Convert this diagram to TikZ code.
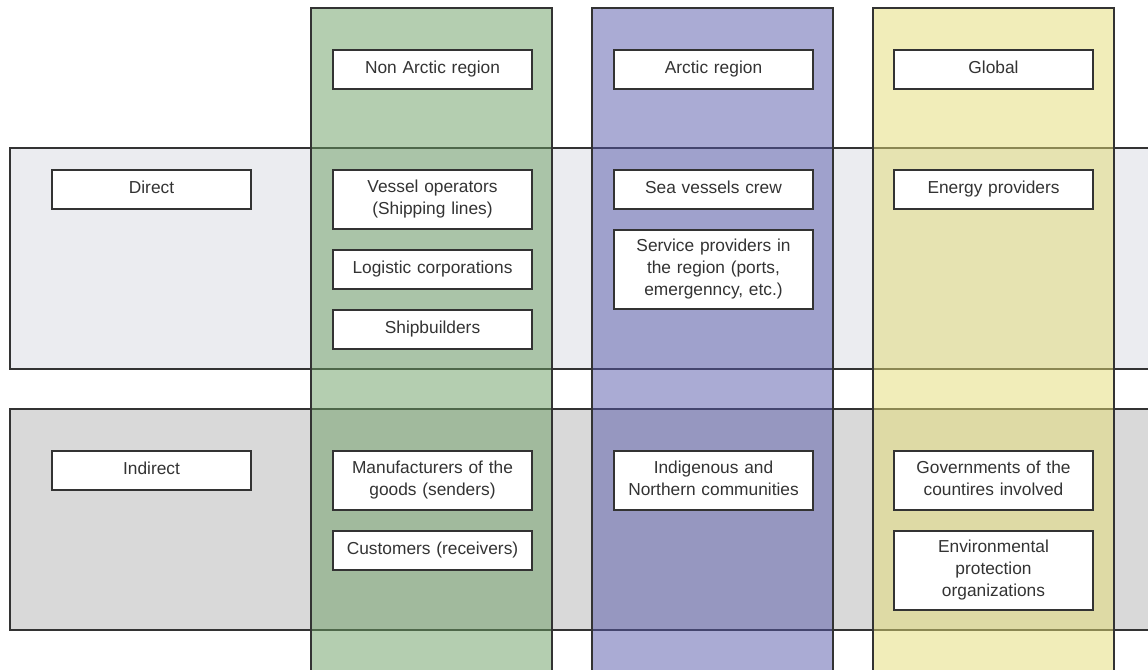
\documentclass[tikz,border=0pt]{standalone}
\usepackage{fontspec}
\setmainfont{Liberation Sans}
\definecolor{linec}{HTML}{333333}
\definecolor{direct}{HTML}{EBECF0}
\definecolor{indirect}{HTML}{D9D9D9}
\definecolor{greenc}{HTML}{6A9D62}
\definecolor{purplec}{HTML}{5557A9}
\definecolor{yellowc}{HTML}{E3DB73}
\newcommand\mystrutx{\rule[-5.5pt]{0pt}{16.5pt}}
\begin{document}
\begin{tikzpicture}[x=0.75pt,y=-0.75pt,
  band/.style={draw=linec,line width=1.5pt},
  col/.style={draw=linec,line width=1.5pt,fill opacity=0.5},
  box/.style={draw=linec,line width=1.5pt,fill=white,anchor=north west,
    minimum width=149.25pt,text width=140pt,align=center,inner sep=0pt,
    font=\fontsize{13}{16.5}\selectfont,text=linec,
    execute at begin node=\mystrutx, execute at end node=\mystrutx}]
\useasboundingbox (0,0) rectangle (1148,669);
\clip (0,0) rectangle (1148,669);
% bands
\path[band,fill=direct] (10,148) rectangle (1170,369);
\path[band,fill=indirect] (10,409) rectangle (1170,630);
% columns
\path[col,fill=greenc] (311,8) rectangle (552,690);
\path[col,fill=purplec] (592,8) rectangle (833,690);
\path[col,fill=yellowc] (873,8) rectangle (1114,690);
% boxes
\node[box,minimum height=29.25pt] (direct) at (51,169) {Direct};
\node[box,minimum height=29.25pt] (indirect) at (51,450) {Indirect};
\node[box,minimum height=29.25pt] (nonarctic) at (332,49) {Non Arctic region};
\node[box,minimum height=29.25pt] (arctic) at (613,49) {Arctic region};
\node[box,minimum height=29.25pt] (global) at (893,49) {Global};
\node[box,minimum height=44.25pt] (vessel) at (332,169) {Vessel operators\\(Shipping lines)};
\node[box,minimum height=29.25pt] (logistic) at (332,249) {Logistic corporations};
\node[box,minimum height=29.25pt] (ship) at (332,309) {Shipbuilders};
\node[box,minimum height=29.25pt] (crew) at (613,169) {Sea vessels crew};
\node[box,minimum height=59.25pt] (service) at (613,229) {Service providers in\\the region (ports,\\emergenncy, etc.)};
\node[box,minimum height=29.25pt] (energy) at (893,169) {Energy providers};
\node[box,minimum height=44.25pt] (manuf) at (332,450) {Manufacturers of the\\goods (senders)};
\node[box,minimum height=29.25pt] (cust) at (332,530) {Customers (receivers)};
\node[box,minimum height=44.25pt] (indig) at (613,450) {Indigenous and\\Northern communities};
\node[box,minimum height=44.25pt] (gov) at (893,450) {Governments of the\\countires involved};
\node[box,minimum height=59.25pt] (env) at (893,530) {Environmental\\protection\\organizations};
\end{tikzpicture}
\end{document}
